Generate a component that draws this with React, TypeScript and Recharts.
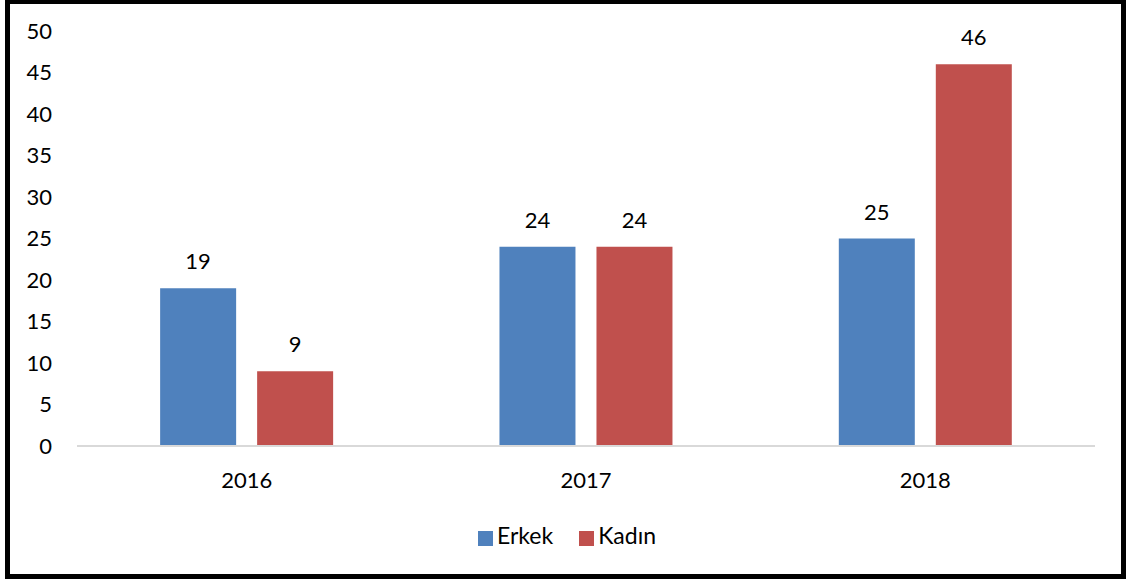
import { BarChart, Bar, XAxis, YAxis, Legend, LabelList } from "recharts"

const years = ["2016", "2017", "2018"]
const erkek = [19, 24, 25]
const kadin = [9, 24, 46]
const yTicks = [0, 5, 10, 15, 20, 25, 30, 35, 40, 45, 50]

const data = years.map((y, i) => ({ year: y, Erkek: erkek[i], Kadın: kadin[i] }))

const font = "Lato, Carlito, Calibri, sans-serif"
const fs = 22

export default function App() {
  return (
    <div style={{ position: "absolute", left: 0, top: 0, width: 1126, height: 580, background: "#fff", fontFamily: font }}>
      <div
        style={{
          position: "absolute",
          left: 5,
          top: 0,
          width: 1111,
          height: 570,
          border: "5px solid #000",
          borderTopWidth: 4,
          boxSizing: "content-box",
        }}
      />
      <div style={{ position: "absolute", left: 0, top: 0 }}>
        <BarChart
          width={1126}
          height={580}
          data={data}
          margin={{ top: 31, right: 31, bottom: 104, left: 0 }}
          barCategoryGap="24.5%"
          barGap={21}
        >
          <XAxis
            dataKey="year"
            height={30}
            axisLine={{ stroke: "#d9d9d9", strokeWidth: 2 }}
            tickLine={false}
            tickSize={0}
            tickMargin={26}
            tick={{ fontSize: fs, fill: "#000", fontFamily: font }}
          />
          <YAxis
            width={77}
            domain={[0, 50]}
            ticks={yTicks}
            axisLine={false}
            tickLine={false}
            tickSize={0}
            tickMargin={25}
            tick={{ fontSize: fs, fill: "#000", fontFamily: font }}
          />
          <Legend
            layout="horizontal"
            verticalAlign="middle"
            align="center"
            iconType="square"
            iconSize={15}
            wrapperStyle={{ top: 521, left: 17, width: 1126, fontSize: 23, fontFamily: font, color: "#000" }}
            formatter={(v) => <span style={{ color: "#000", marginRight: 16 }}>{v}</span>}
          />
          <Bar dataKey="Erkek" fill="#4F81BD" isAnimationActive={false}>
            <LabelList dataKey="Erkek" position="top" offset={19} style={{ fontSize: fs, fill: "#000", fontFamily: font }} />
          </Bar>
          <Bar dataKey="Kadın" fill="#C0504D" isAnimationActive={false}>
            <LabelList dataKey="Kadın" position="top" offset={19} style={{ fontSize: fs, fill: "#000", fontFamily: font }} />
          </Bar>
        </BarChart>
      </div>
    </div>
  )
}
